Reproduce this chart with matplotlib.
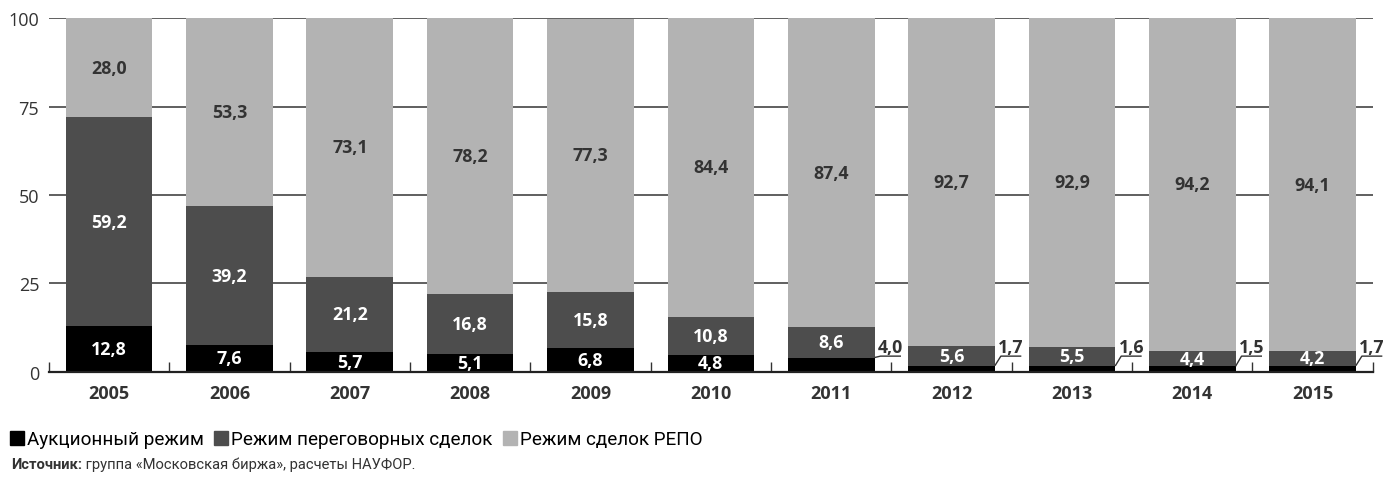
import numpy as np
import matplotlib
matplotlib.use("Agg")
import matplotlib.pyplot as plt
from matplotlib import font_manager
from matplotlib.patches import Patch

years = ["2005", "2006", "2007", "2008", "2009", "2010",
         "2011", "2012", "2013", "2014", "2015"]
auction = [12.8, 7.6, 5.7, 5.1, 6.8, 4.8, 4.0, 1.7, 1.6, 1.5, 1.7]
negotiated = [59.2, 39.2, 21.2, 16.8, 15.8, 10.8, 8.6, 5.6, 5.5, 4.4, 4.2]
repo = [28.0, 53.3, 73.1, 78.2, 77.3, 84.4, 87.4, 92.7, 92.9, 94.2, 94.1]
series_names = ["Аукционный режим", "Режим переговорных сделок", "Режим сделок РЕПО"]

BLACK = "#000000"
DARK = "#4d4d4d"
LIGHT = "#b3b3b3"
TEXT = "#333333"

installed = {f.name for f in font_manager.fontManager.ttflist}
narrow = "Liberation Sans Narrow" if "Liberation Sans Narrow" in installed else "Roboto"
plt.rcParams["font.family"] = ["Open Sans", "DejaVu Sans"]

fig = plt.figure(figsize=(13.87, 4.81), dpi=100)
ax = fig.add_axes([0.0353, 0.2252, 0.9544, 0.7347])

x = np.arange(len(years))
w = 0.72
ax.bar(x, auction, w, color=BLACK, zorder=2)
ax.bar(x, negotiated, w, bottom=auction, color=DARK, zorder=2)
bottom3 = np.array(auction) + np.array(negotiated)
ax.bar(x, repo, w, bottom=bottom3, color=LIGHT, zorder=2)

fmt = lambda v: f"{v:.1f}".replace(".", ",")
vsize = 12.8

for i in range(len(years)):
    a, n, r = auction[i], negotiated[i], repo[i]
    # small auction shares go outside the bar with a leader line
    if a > 4.0:
        ax.text(x[i], a / 2, fmt(a), ha="center", va="center", color="white",
                fontsize=vsize, fontweight="bold", zorder=3)
    else:
        x0 = x[i] + w / 2
        ax.plot([x0, x0 + 0.05, x0 + 0.22], [a, 4.4, 4.4], color=TEXT,
                lw=1, zorder=3, clip_on=False, solid_capstyle="butt")
        ax.text(x0 + 0.135, 5.6, fmt(a), ha="center", va="baseline", color=TEXT,
                fontsize=vsize, fontweight="bold", zorder=3)
    ax.text(x[i], a + n / 2, fmt(n), ha="center", va="center", color="white",
            fontsize=vsize, fontweight="bold", zorder=3)
    ax.text(x[i], a + n + r / 2, fmt(r), ha="center", va="center", color=TEXT,
            fontsize=vsize, fontweight="bold", zorder=3)

ax.set_xlim(-0.5, len(years) - 0.5)
ax.set_ylim(0, 100)
ax.set_yticks([0, 25, 50, 75, 100])
ax.set_xticks(x)
ax.set_xticklabels(years, fontweight="bold", fontsize=13, color=TEXT)
ax.set_xticks(np.arange(-0.5, len(years)), minor=True)
ax.tick_params(axis="x", which="major", length=0, pad=9)
ax.tick_params(axis="x", which="minor", direction="in", length=7, width=1,
               color=TEXT)
ax.tick_params(axis="y", length=0, pad=7, labelsize=13, labelcolor=TEXT)
ax.grid(axis="y", color="#444444", lw=1.2, zorder=1)
for s in ["top", "right", "left"]:
    ax.spines[s].set_visible(False)
ax.spines["bottom"].set_color("#222222")
ax.spines["bottom"].set_linewidth(1.6)
ax.spines["bottom"].set_zorder(4)

handles = [Patch(color=c) for c in (BLACK, DARK, LIGHT)]
fig.legend(handles, series_names, loc="lower left", bbox_to_anchor=(0.007, 0.066),
           ncol=3, frameon=False, handlelength=0.75, handleheight=0.75,
           handletextpad=0.15, columnspacing=0.55, borderpad=0, borderaxespad=0,
           prop={"family": narrow, "size": 13.6})

src = fig.text(0.008, 0.033, "Источник:", family=narrow, fontweight="bold",
               fontsize=10.6, color=TEXT, va="center")
ax.annotate(" группа «Московская биржа», расчеты НАУФОР.", xy=(1, 0.5),
            xycoords=src, va="center", ha="left", family=narrow,
            fontsize=10.6, color=TEXT)

fig.savefig("out.png", dpi=100)
